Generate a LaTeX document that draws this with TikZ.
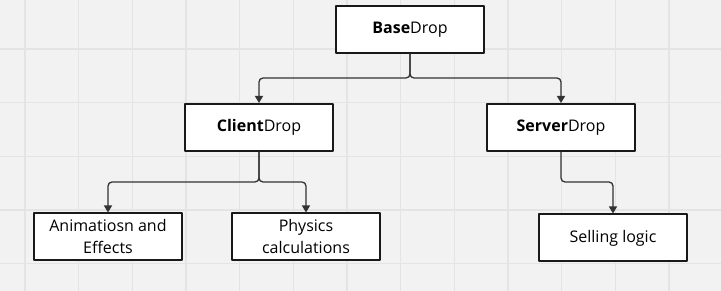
\documentclass[tikz,border=0pt]{standalone}
\usepackage{fontspec}
\setmainfont{Open Sans}
\usetikzlibrary{arrows.meta}

\definecolor{paper}{HTML}{F2F2F2}
\definecolor{gridline}{HTML}{E4E4E4}
\definecolor{wire}{HTML}{333333}

\tikzset{
  box/.style={draw=black!90, line width=2pt, fill=white, minimum width=148pt,
    minimum height=47pt, inner sep=0pt, align=center,
    font=\fontsize{16}{22}\selectfont},
  link/.style={draw=wire, line width=1.3pt, rounded corners=4pt,
    -{Triangle[width=8pt,length=7pt]}}
}

\begin{document}
\begin{tikzpicture}[x=1pt, y=-1pt, line cap=round, line join=round]
\fill[paper] (0,0) rectangle (721,291);
\useasboundingbox (0,0) rectangle (721,291);

% grid
\foreach \i in {0,...,12}
  \draw[gridline, line width=1.2pt] (25+53.67*\i,0) -- (25+53.67*\i,291);
\foreach \j in {1,...,5}
  \draw[gridline, line width=1.2pt] (0,-4.6+53.67*\j) -- (721,-4.6+53.67*\j);

\node[box] (base) at (410,29.5) {\textbf{Base}Drop};
\node[box] (client) at (259,127.5) {\textbf{Client}Drop};
\node[box] (server) at (561,127.5) {\textbf{Server}Drop};

\node[box] (anim) at (108,237) {Animatiosn and\\Effects};
\node[box] (phys) at (306,237) {Physics\\calculations};
\node[box] (sell) at (613,238) {Selling logic};

\coordinate (split1) at (410,78);
\coordinate (split2) at (259,182);
\coordinate (bend3) at (561,182);

\draw[link] (base) -- (split1) -| (client);
\draw[link] (base) -- (split1) -| (server);
\draw[link] (client) -- (split2) -| (anim);
\draw[link] (client) -- (split2) -| (phys);
\draw[link] (server) -- (bend3) -| (sell);
\end{tikzpicture}
\end{document}
